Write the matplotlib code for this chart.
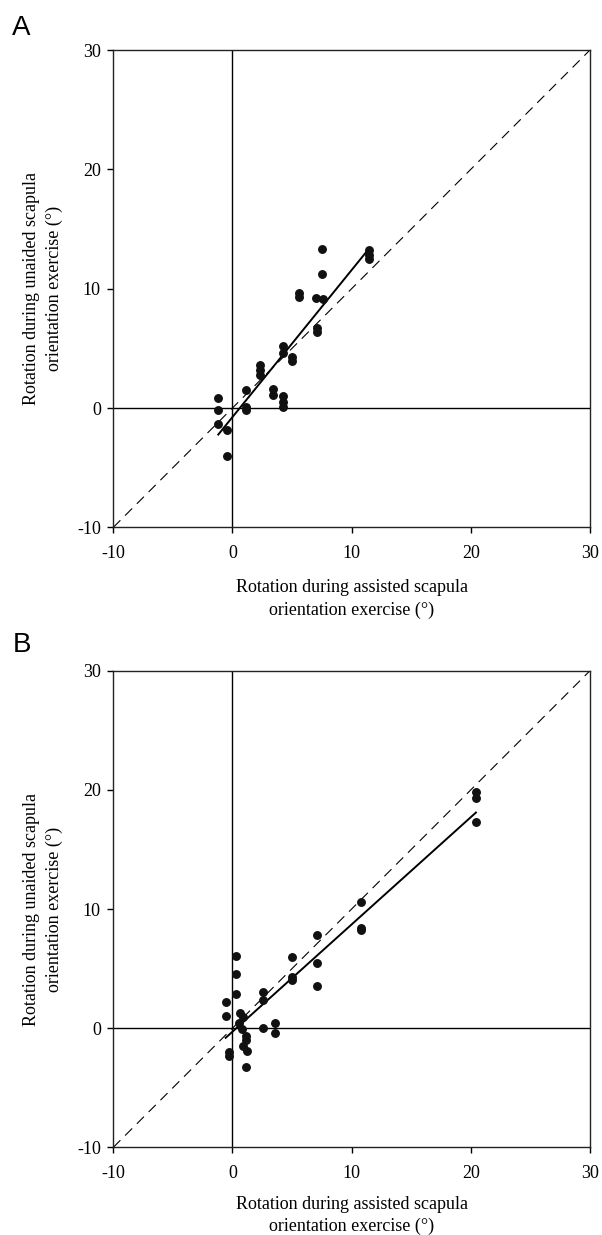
import matplotlib
matplotlib.use('Agg')
import matplotlib.pyplot as plt
import numpy as np

# Panel A: assisted vs unaided rotation (deg)
a_assisted = [7.53, 7.53, 11.45, 11.45, 11.45, 5.6, 5.6, 7.0, 7.57, 7.06, 7.06,
              4.2, 4.2, 4.96, 4.96, 2.3, 2.3, 2.3, 1.13, 1.13, 1.13, 3.37, 3.37,
              4.2, 4.2, 4.2, -1.19, -1.19, -1.19, -0.5, -0.5]
a_unaided = [13.3, 11.2, 13.25, 12.8, 12.45, 9.65, 9.3, 9.23, 9.1, 6.67, 6.4,
             5.2, 4.6, 4.3, 3.9, 3.6, 3.2, 2.8, 1.5, 0.1, -0.18, 1.56, 1.1,
             1.0, 0.5, 0.06, 0.8, -0.18, -1.35, -1.86, -4.05]

# Panel B
b_assisted = [20.43, 20.43, 20.43, 10.78, 10.78, 10.78, 7.06, 7.06, 7.06, 4.96,
              4.96, 4.96, 2.55, 2.55, 2.58, 0.27, 0.27, 0.27, -0.57, -0.57,
              0.63, 0.85, 0.57, 0.8, 1.13, 1.13, 0.9, 1.19, -0.27, -0.27, 1.1,
              3.57, 3.57]
b_unaided = [19.8, 19.33, 17.3, 10.6, 8.4, 8.2, 7.86, 5.44, 3.57, 6.0,
             4.3, 4.04, 3.06, 2.4, 0.0, 6.08, 4.54, 2.87, 2.23, 1.0,
             1.28, 0.95, 0.42, -0.1, -0.64, -0.98, -1.48, -1.88, -1.96, -2.33, -3.3,
             0.42, -0.42]

ticks = [-10, 0, 10, 20, 30]
xlabel = 'Rotation during assisted scapula\norientation exercise (\u00b0)'
ylabel = 'Rotation during unaided scapula\norientation exercise (\u00b0)'

plt.rcParams['font.family'] = ['Liberation Serif', 'DejaVu Serif']
plt.rcParams['axes.unicode_minus'] = False

fig = plt.figure(figsize=(6.02, 12.35), dpi=100)


def draw_panel(rect, xs, ys, letter, letter_y, xpad):
    ax = fig.add_axes(rect)
    ax.set_xlim(-10, 30)
    ax.set_ylim(-10, 30)
    ax.axhline(0, color='black', lw=1.0, zorder=1)
    ax.axvline(0, color='black', lw=1.0, zorder=1)
    # line of identity
    ax.plot([-10, 30], [-10, 30], color='black', lw=0.8, linestyle=(0, (9, 6)), zorder=1)
    # regression line over the data range
    xs = np.array(xs)
    ys = np.array(ys)
    slope, intercept = np.polyfit(xs, ys, 1)
    xr = np.array([xs.min(), xs.max()])
    ax.plot(xr, slope * xr + intercept, color='black', lw=1.4, zorder=2)
    ax.plot(xs, ys, 'o', color='#111111', markersize=5.4, zorder=3)

    ax.set_xticks(ticks)
    ax.set_yticks(ticks)
    ax.tick_params(direction='out', length=4, width=1, labelsize=13)
    ax.tick_params(axis='x', pad=9)
    ax.tick_params(axis='y', pad=5)
    for s in ax.spines.values():
        s.set_linewidth(1.0)
        s.set_color('#222222')
    ax.set_xlabel(xlabel, fontsize=13, labelpad=xpad, linespacing=1.4)
    ax.set_ylabel(ylabel, fontsize=13, labelpad=10, linespacing=1.45)
    fig.text(0.0205, letter_y, letter, fontsize=20, family='Liberation Sans',
             ha='left', va='baseline')
    return ax


draw_panel([0.1882, 0.5730, 0.7918, 0.3865], a_assisted, a_unaided, 'A', 0.9715, 12)
draw_panel([0.1882, 0.0710, 0.7918, 0.3859], b_assisted, b_unaided, 'B', 0.4723, 9.5)

fig.savefig('out.png', dpi=100)
